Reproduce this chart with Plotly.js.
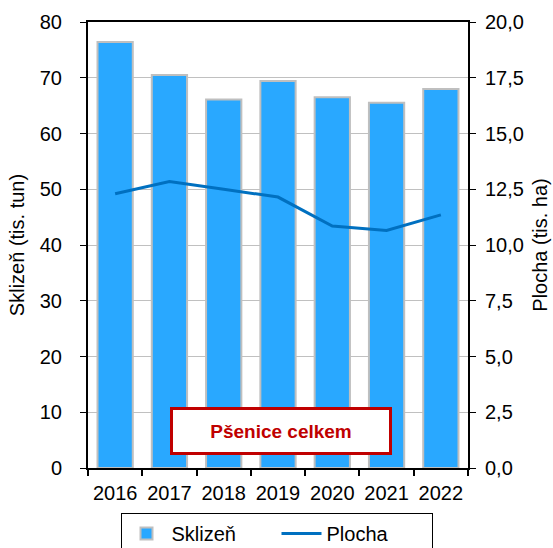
<!DOCTYPE html>
<html>
<head>
<meta charset="utf-8">
<script src="https://cdn.plot.ly/plotly-3.0.1.min.js"></script>
<style>html,body{margin:0;padding:0;background:#fff}#chart{width:553px;height:548px}</style>
</head>
<body>
<div id="chart"></div>
<script>
var years = ['2016','2017','2018','2019','2020','2021','2022'];
var sklizen = [76.4, 70.5, 66.1, 69.4, 66.5, 65.5, 68.0];
var plocha = [12.3, 12.85, 12.5, 12.15, 10.85, 10.65, 11.35];

var font = {family: 'Liberation Sans, Arial, sans-serif', size: 20, color: '#000'};

var traces = [
  {type: 'bar', x: years, y: sklizen, name: 'Sklizeň',
   marker: {color: '#29A8FF', line: {color: '#BFBFBF', width: 2}}, yaxis: 'y'},
  {type: 'scatter', mode: 'lines', x: years, y: plocha, name: 'Plocha',
   line: {color: '#0070C0', width: 3}, yaxis: 'y2'}
];

var layout = {
  width: 553, height: 548,
  margin: {l: 88, r: 85, t: 22, b: 80},
  paper_bgcolor: '#fff', plot_bgcolor: '#fff',
  font: font,
  separators: ', ',
  bargap: 0.35,
  showlegend: true,
  legend: {orientation: 'h', xref: 'container', yref: 'container',
           x: 0.5, xanchor: 'center', y: 0.064, yanchor: 'top',
           entrywidth: 100, itemwidth: 40,
           bordercolor: '#000', borderwidth: 1, font: font, traceorder: 'normal'},
  xaxis: {type: 'category', showline: true, linecolor: '#000', linewidth: 2, mirror: true,
          ticks: 'outside', tickson: 'boundaries', ticklen: 6, tickcolor: '#000', tickwidth: 2,
          tickfont: font, tickangle: 0, showgrid: false, automargin: false,
          ticklabelstandoff: 6},
  yaxis: {range: [0, 80], dtick: 10, showline: true, linecolor: '#000', linewidth: 2,
          ticks: 'outside', ticklen: 6, tickcolor: '#000', tickwidth: 1, automargin: false,
          showgrid: true, gridcolor: '#C0C0C0', gridwidth: 1, zeroline: false,
          ticklabelstandoff: 14,
          tickfont: font, title: {text: 'Sklizeň (tis. tun)', font: font, standoff: 10}},
  yaxis2: {range: [0, 20], dtick: 2.5, tickformat: '.1f', overlaying: 'y', side: 'right',
           showline: true, linecolor: '#000', linewidth: 2, automargin: false,
           ticks: 'outside', ticklen: 6, tickcolor: '#000', tickwidth: 1,
           showgrid: false, zeroline: false, tickfont: font, ticklabelstandoff: 5,
           title: {text: 'Plocha (tis. ha)', font: font, standoff: 10}},
  annotations: [{
    xref: 'paper', yref: 'paper', x: 0.508, y: 0.083, xanchor: 'center', yanchor: 'middle',
    text: '<b>Pšenice celkem</b>', showarrow: false,
    font: {family: 'Liberation Sans, Arial, sans-serif', size: 19, color: '#C00000'},
    bgcolor: '#fff', bordercolor: '#C00000', borderwidth: 3,
    width: 214, height: 40, borderpad: 1
  }]
};

Plotly.newPlot('chart', traces, layout, {displayModeBar: false, staticPlot: true});
</script>
</body>
</html>
